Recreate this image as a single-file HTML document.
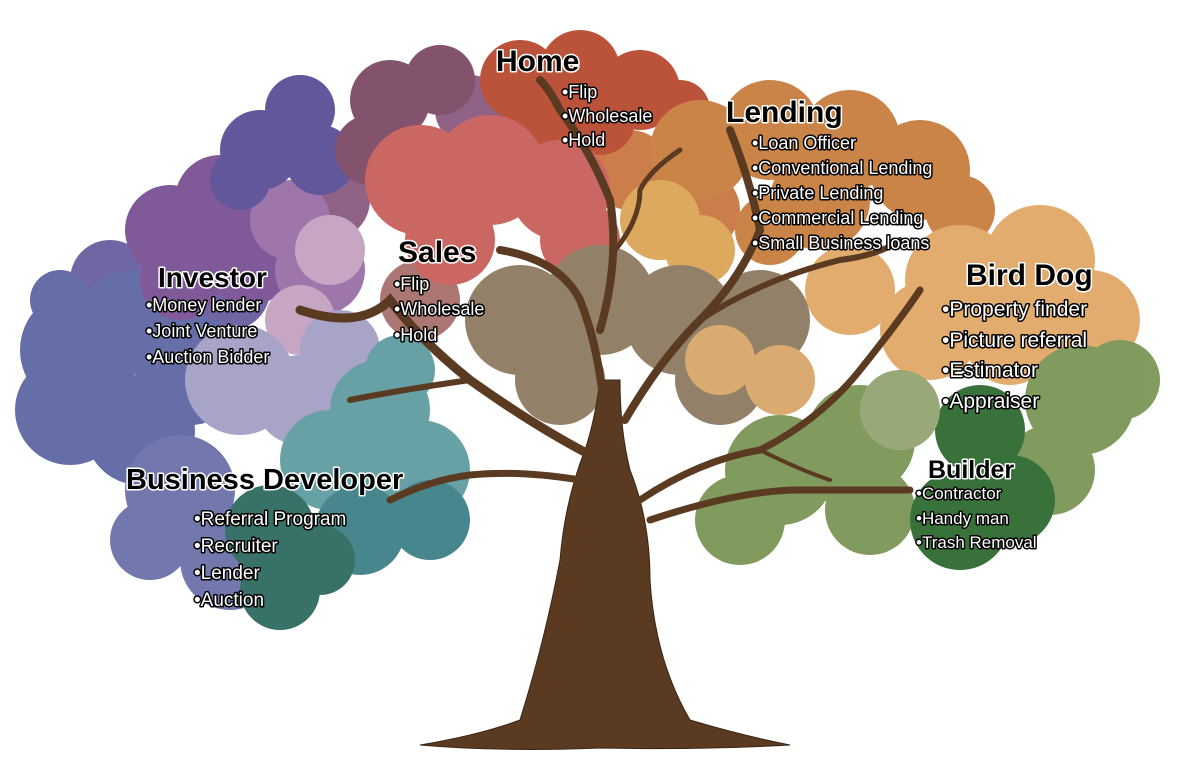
<!DOCTYPE html>
<html><head><meta charset="utf-8"><style>
html,body{margin:0;padding:0;background:#fff}
svg{display:block}
.h{font-family:"Liberation Sans",sans-serif;font-weight:bold;fill:#000;stroke:#fff;stroke-width:3px;paint-order:stroke;stroke-linejoin:round}
.i{font-family:"Liberation Sans",sans-serif;fill:#fff;stroke:#000;stroke-width:3px;paint-order:stroke;stroke-linejoin:round}
</style></head><body>
<svg width="1182" height="768" viewBox="0 0 1182 768" xmlns="http://www.w3.org/2000/svg">
<rect width="1182" height="768" fill="#fff"/>
<g opacity="0.95">
<!-- fillers -->
<g fill="#8a5a80"><circle cx="470" cy="110" r="35"/><circle cx="330" cy="200" r="40"/></g>
<g fill="#c97840"><circle cx="630" cy="170" r="40"/><circle cx="700" cy="210" r="40"/></g>
<g fill="#6a5ea0"><circle cx="110" cy="280" r="40"/><circle cx="230" cy="290" r="40"/></g>
<g fill="#a8706c"><circle cx="420" cy="300" r="40"/></g>
<!-- left blue -->
<g fill="#5d67a3"><circle cx="80" cy="350" r="60"/><circle cx="70" cy="410" r="55"/><circle cx="130" cy="320" r="50"/><circle cx="140" cy="430" r="55"/><circle cx="190" cy="370" r="55"/><circle cx="60" cy="300" r="30"/></g>
<!-- purple left -->
<g fill="#7a5293"><circle cx="170" cy="230" r="45"/><circle cx="220" cy="200" r="45"/><circle cx="180" cy="280" r="40"/><circle cx="250" cy="260" r="45"/></g>
<g fill="#9a6fa8"><circle cx="290" cy="220" r="40"/><circle cx="320" cy="270" r="45"/></g>
<g fill="#c4a2c0"><circle cx="330" cy="250" r="35"/><circle cx="300" cy="320" r="35"/></g>
<!-- top blue-purple -->
<g fill="#5a4f96"><circle cx="300" cy="110" r="35"/><circle cx="260" cy="150" r="40"/><circle cx="320" cy="160" r="35"/><circle cx="240" cy="180" r="30"/></g>
<!-- mauve -->
<g fill="#7d4a66"><circle cx="390" cy="100" r="40"/><circle cx="440" cy="80" r="35"/><circle cx="370" cy="150" r="35"/></g>
<!-- lavender -->
<g fill="#a3a0c6"><circle cx="240" cy="380" r="55"/><circle cx="300" cy="400" r="45"/><circle cx="340" cy="350" r="40"/></g>
<!-- teal -->
<g fill="#5f9ca2"><circle cx="380" cy="410" r="50"/><circle cx="420" cy="470" r="50"/><circle cx="330" cy="460" r="50"/><circle cx="400" cy="370" r="35"/></g>
<g fill="#3f8088"><circle cx="430" cy="520" r="40"/><circle cx="360" cy="530" r="45"/></g>
<!-- business dev blue -->
<g fill="#6b71a9"><circle cx="180" cy="490" r="55"/><circle cx="230" cy="560" r="50"/><circle cx="150" cy="540" r="40"/></g>
<g fill="#2e6a5f"><circle cx="270" cy="530" r="45"/><circle cx="280" cy="590" r="40"/><circle cx="320" cy="560" r="35"/></g>
<!-- home red -->
<g fill="#b84a30"><circle cx="520" cy="80" r="40"/><circle cx="580" cy="70" r="40"/><circle cx="640" cy="90" r="40"/><circle cx="680" cy="110" r="30"/><circle cx="540" cy="130" r="35"/><circle cx="600" cy="120" r="35"/></g>
<!-- salmon -->
<g fill="#c95f5a"><circle cx="420" cy="180" r="55"/><circle cx="490" cy="170" r="55"/><circle cx="560" cy="190" r="50"/><circle cx="450" cy="240" r="45"/><circle cx="580" cy="240" r="40"/></g>
<!-- lending orange -->
<g fill="#c97e3f"><circle cx="700" cy="150" r="50"/><circle cx="770" cy="130" r="50"/><circle cx="850" cy="140" r="50"/><circle cx="920" cy="170" r="50"/><circle cx="960" cy="210" r="35"/><circle cx="820" cy="200" r="50"/><circle cx="770" cy="230" r="35"/></g>
<g fill="#dba556"><circle cx="660" cy="220" r="40"/><circle cx="700" cy="250" r="35"/></g>
<!-- bird dog light orange -->
<g fill="#e0a866"><circle cx="960" cy="280" r="55"/><circle cx="1040" cy="260" r="55"/><circle cx="1090" cy="320" r="50"/><circle cx="930" cy="330" r="50"/><circle cx="1010" cy="340" r="45"/><circle cx="850" cy="290" r="45"/></g>
<!-- center brown -->
<g fill="#8e7a62"><circle cx="520" cy="320" r="55"/><circle cx="600" cy="300" r="55"/><circle cx="680" cy="320" r="55"/><circle cx="760" cy="320" r="50"/><circle cx="560" cy="380" r="45"/><circle cx="720" cy="380" r="45"/></g>
<g fill="#d9a76a"><circle cx="720" cy="360" r="35"/><circle cx="780" cy="380" r="35"/></g>
<!-- green -->
<g fill="#7b9656"><circle cx="780" cy="470" r="55"/><circle cx="740" cy="520" r="45"/><circle cx="860" cy="440" r="55"/><circle cx="870" cy="510" r="45"/><circle cx="1080" cy="400" r="55"/><circle cx="1120" cy="380" r="40"/><circle cx="1050" cy="470" r="45"/></g>
<g fill="#2f6a30"><circle cx="980" cy="430" r="45"/><circle cx="960" cy="520" r="50"/><circle cx="1010" cy="500" r="45"/></g>
<g fill="#94a472"><circle cx="900" cy="410" r="40"/></g>
</g>
<!-- trunk -->
<g fill="#5b3a22" stroke="#3a2412" stroke-width="1">
<path d="M420,745 Q480,735 520,720 Q545,640 560,560 Q565,500 585,450 Q595,420 600,380 L620,380 Q620,430 630,470 Q650,520 650,580 Q655,660 690,720 Q740,735 790,745 Q700,750 600,748 Q500,752 420,745Z"/>
</g>
<g fill="none" stroke="#5b3a22" stroke-linecap="round">
<path d="M600,460 Q540,430 470,380 Q420,340 390,300 Q360,330 300,310" stroke-width="9"/>
<path d="M470,380 Q400,390 350,400" stroke-width="6"/>
<path d="M580,480 Q520,470 470,475 Q430,480 390,500" stroke-width="7"/>
<path d="M605,420 Q600,350 580,300 Q560,260 500,250" stroke-width="8"/>
<path d="M600,330 Q620,260 610,200 Q590,150 560,110 Q550,90 540,80" stroke-width="8"/>
<path d="M615,250 Q640,220 640,190 Q650,170 680,150" stroke-width="5"/>
<path d="M625,420 Q660,360 700,320 Q740,280 760,230 Q750,180 730,130" stroke-width="8"/>
<path d="M700,320 Q760,280 840,260 Q880,255 900,240" stroke-width="6"/>
<path d="M640,500 Q700,460 760,450 Q820,420 860,370 Q900,320 920,290" stroke-width="7"/>
<path d="M650,520 Q740,490 800,490 Q860,490 910,490" stroke-width="7"/>
<path d="M760,450 Q800,470 830,480" stroke-width="4"/>
</g>
<!-- text -->
<text class="h" x="496" y="71" font-size="30">Home</text>
<g class="i" font-size="18"><text x="562" y="98">•Flip</text><text x="562" y="122">•Wholesale</text><text x="562" y="146">•Hold</text></g>
<text class="h" x="726" y="122" font-size="30">Lending</text>
<g class="i" font-size="18"><text x="752" y="149">•Loan Officer</text><text x="752" y="174">•Conventional Lending</text><text x="752" y="199">•Private Lending</text><text x="752" y="224">•Commercial Lending</text><text x="752" y="249">•Small Business loans</text></g>
<text class="h" x="398" y="262" font-size="30">Sales</text>
<g class="i" font-size="18"><text x="394" y="290">•Flip</text><text x="394" y="315">•Wholesale</text><text x="394" y="341">•Hold</text></g>
<text class="h" x="158" y="287" font-size="28">Investor</text>
<g class="i" font-size="18"><text x="146" y="311">•Money lender</text><text x="146" y="337">•Joint Venture</text><text x="146" y="363">•Auction Bidder</text></g>
<text class="h" x="966" y="285" font-size="30">Bird Dog</text>
<g class="i" font-size="21"><text x="942" y="316">•Property finder</text><text x="942" y="347">•Picture referral</text><text x="942" y="377">•Estimator</text><text x="942" y="408">•Appraiser</text></g>
<text class="h" x="928" y="478" font-size="25">Builder</text>
<g class="i" font-size="17"><text x="916" y="499">•Contractor</text><text x="916" y="524">•Handy man</text><text x="916" y="548">•Trash Removal</text></g>
<text class="h" x="126" y="489" font-size="29">Business Developer</text>
<g class="i" font-size="19"><text x="194" y="525">•Referral Program</text><text x="194" y="552">•Recruiter</text><text x="194" y="579">•Lender</text><text x="194" y="606">•Auction</text></g>
</svg>
</body></html>
